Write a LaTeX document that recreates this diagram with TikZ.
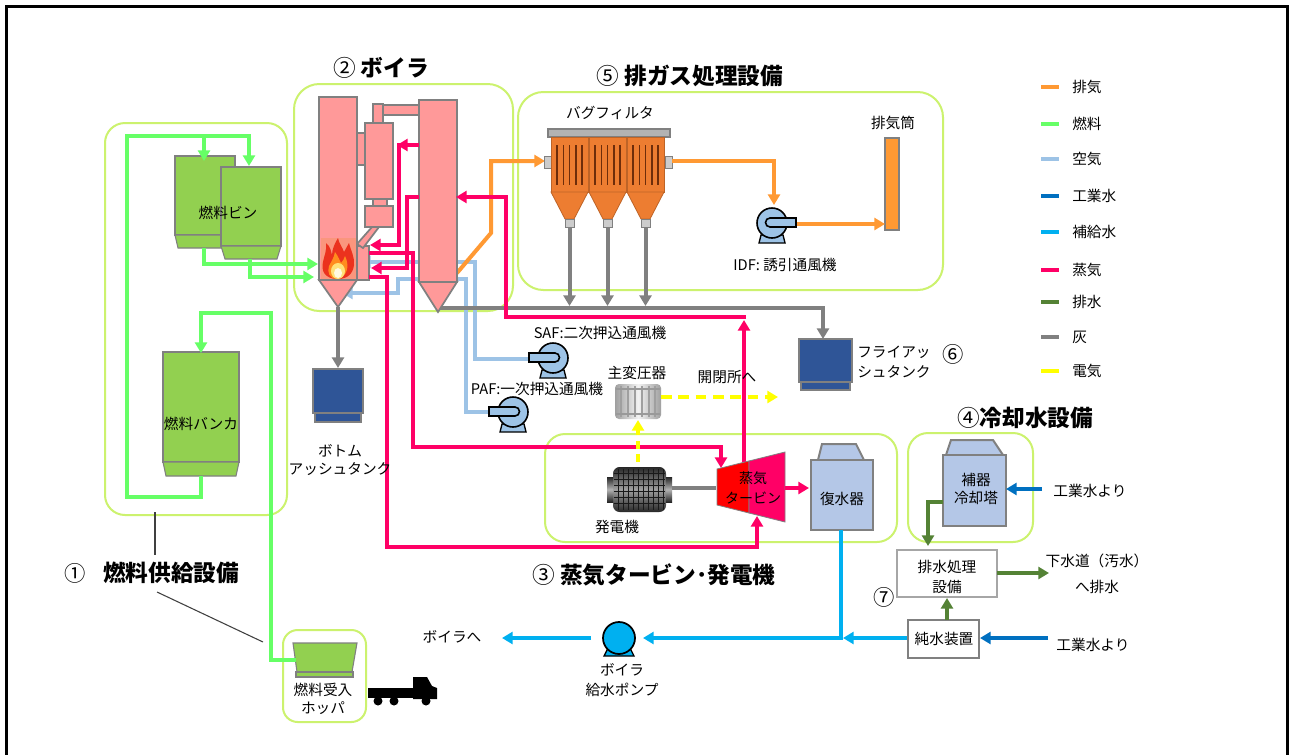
\documentclass[tikz,border=0pt]{standalone}
\usepackage{fontspec}
\setmainfont{Noto Sans CJK JP}
\usetikzlibrary{arrows.meta}
\definecolor{cOrange}{RGB}{255,153,51}
\definecolor{cFuel}{RGB}{102,255,102}
\definecolor{cAir}{RGB}{157,195,230}
\definecolor{cInd}{RGB}{0,112,192}
\definecolor{cMake}{RGB}{0,176,240}
\definecolor{cSteam}{RGB}{255,0,102}
\definecolor{cDrain}{RGB}{84,130,53}
\definecolor{cAsh}{RGB}{128,128,128}
\definecolor{cElec}{RGB}{255,255,0}
\definecolor{cGroup}{RGB}{204,242,110}
\definecolor{cBin}{RGB}{146,208,80}
\definecolor{cBoiler}{RGB}{255,153,153}
\definecolor{cTank}{RGB}{47,85,151}
\definecolor{cCond}{RGB}{180,199,231}
\definecolor{cBag}{RGB}{237,125,49}
\definecolor{cBagDk}{RGB}{110,45,10}
\definecolor{cLead}{RGB}{64,64,64}
\definecolor{fBg}{RGB}{250,150,125}
\definecolor{fRed}{RGB}{235,50,30}
\definecolor{fOra}{RGB}{255,140,30}
\definecolor{fYel}{RGB}{255,225,120}
\definecolor{fWht}{RGB}{255,250,225}
\tikzset{
 tip/.style={-{Triangle[length=8pt,width=9pt]}},
 pipe/.style={line width=3pt},
 fuel/.style={pipe,draw=cFuel},
 exh/.style={pipe,draw=cOrange},
 air/.style={pipe,draw=cAir},
 ind/.style={pipe,draw=cInd},
 make/.style={pipe,draw=cMake},
 steam/.style={pipe,draw=cSteam},
 drain/.style={pipe,draw=cDrain},
 ash/.style={pipe,draw=cAsh},
 elec/.style={pipe,draw=cElec},
 grp/.style={draw=cGroup,line width=1.5pt,rounded corners=15pt},
 boil/.style={fill=cBoiler,draw=cAsh,line width=1.3pt},
 binst/.style={fill=cBin,draw=cAsh,line width=0.8pt},
 tank/.style={fill=cTank,draw=cAsh,line width=0.8pt},
 cond/.style={fill=cCond,draw=cAsh,line width=1.5pt},
 lbl/.style={font=\fontsize{11}{14.5}\selectfont,inner sep=0pt,align=center},
 ttl/.style={font=\fontsize{17}{20}\selectfont\bfseries,inner sep=0pt},
 num/.style={font=\fontsize{16}{19}\selectfont,inner sep=0pt},
 leader/.style={draw=cLead,line width=0.8pt},
 fanleft/.pic={
   \filldraw[fill=cAir,draw=black,line width=1pt] (-11,12) -- (11,12) -- (13,20) -- (-13,20) -- cycle;
   \filldraw[fill=cAir,draw=black,line width=1.2pt] (0,0) circle[radius=15];
   \filldraw[fill=cAir,draw=black,line width=1.2pt] (-24,-5) -- (2,-5) arc[start angle=-90,end angle=90,radius=4.5] -- (-24,4) -- cycle;
 }
}
\begin{document}
\begin{tikzpicture}[x=0.75pt,y=-0.75pt]
\useasboundingbox (0,0) rectangle (1292,754);
\fill[white] (0,0) rectangle (1292,754);
\draw[line width=2.25pt] (6.5,770) -- (6.5,6.5) -- (1287.5,6.5) -- (1287.5,770);

% group boxes
\draw[grp] (105,123) rectangle (287,515);
\draw[grp,rounded corners=19pt] (294,84) rectangle (513,311);
\draw[grp,rounded corners=19pt] (518,92) rectangle (943,290);
\draw[grp] (545,434) rectangle (897,542);
\draw[grp] (908,433) rectangle (1033,542);
\draw[grp,rounded corners=11pt] (283,630) rectangle (366,722);

% titles
\node[ttl] (t2) at (381,68) {{\mdseries ②} ボイラ};
\node[ttl] (t5) at (690,76) {{\mdseries ⑤} 排ガス処理設備};
\node[ttl] (t4) at (1025,418) {{\mdseries ④}冷却水設備};
\node[ttl] (t3) at (654,575) {{\mdseries ③} 蒸気タービン･発電機};
\node[num] (t1n) at (75,573) {①};
\node[ttl,anchor=west] (t1) at (103,573) {燃料供給設備};
\node[num] (n6) at (953,354) {⑥};
\node[num] (n7) at (884,597) {⑦};

% leader lines
\coordinate (la) at (155,512); \coordinate (lb) at (155,555);
\coordinate (lc) at (157,592); \coordinate (ld) at (263,642);
\draw[leader] (la) -- (lb);
\draw[leader] (lc) -- (ld);

% fuel bins
\filldraw[binst] (175,156) rectangle (235,235);
\filldraw[binst] (175,235) -- (235,235) -- (232,248) -- (178,248) -- cycle;
\filldraw[binst] (221,167) rectangle (281,246);
\filldraw[binst] (221,246) -- (281,246) -- (277,259) -- (225,259) -- cycle;
\node[lbl] (bin) at (228,213) {燃料ビン};
% bunker
\filldraw[binst] (163,352) rectangle (239,462);
\filldraw[binst] (163,462) -- (239,462) -- (236,476) -- (166,476) -- cycle;
\node[lbl] (bunker) at (201,424) {燃料バンカ};
% receiving hopper
\filldraw[binst] (293,643) -- (357,643) -- (352,672) -- (297,672) -- cycle;
\filldraw[binst] (296,672) rectangle (353,677);
\node[lbl,font=\fontsize{11}{13}\selectfont] (hopper) at (323,699) {燃料受入\\ホッパ};
% truck
\fill[black] (368,688) rectangle (414,698);
\fill[black] (413,699) -- (413,677) -- (427,677) -- (432,686) -- (437,688) -- (437,699) -- cycle;
\foreach \wx in {378,394,426} \fill[black] (\wx,701) circle[radius=4.5];

% fuel lines
\draw[fuel,tip] (201,476) -- (201,497) -- (127,497) -- (127,136) -- (249,136) -- (249,166);
\draw[fuel,tip] (204,136) -- (204,161);
\draw[fuel,tip] (204,248) -- (204,264) -- (318,264);
\draw[fuel,tip] (250,259) -- (250,277) -- (314,277);
\draw[fuel,tip] (296,660) -- (271,660) -- (271,313) -- (201,313) -- (201,353);

% air lines (behind boiler)
\draw[air,tip] (529,359) -- (475,359) -- (475,262) -- (360,262);
\draw[air,tip] (489,412) -- (466,412) -- (466,279) -- (398,279) -- (398,293) -- (342,293);
% ash main line
\draw[ash,tip] (438,308) -- (823,308) -- (823,339);
% exhaust from boiler
\draw[exh,tip] (457,273) -- (491,233) -- (491,161) -- (545,161);

% boiler
\filldraw[boil] (319,97) rectangle (357,280);
\filldraw[boil] (319,280) -- (357,280) -- (338,307) -- cycle;
\filldraw[boil] (357,246) rectangle (369,280);
\filldraw[boil] (357,133) rectangle (365,165);
\filldraw[boil] (373,104) rectangle (383,124);
\filldraw[boil] (383,105) rectangle (419,115);
\filldraw[boil] (365,123) rectangle (393,199);
\filldraw[boil] (373,199) rectangle (387,206);
\filldraw[boil] (365,206) rectangle (393,227);
\filldraw[boil] (372,227) -- (379,227) -- (363,248) -- (357,244) -- cycle;
\filldraw[boil] (419,100) rectangle (457,282);
\filldraw[boil] (419,282) -- (457,282) -- (438,312) -- cycle;
% fire
\fill[fBg] (321,238) rectangle (356,279);
\fill[fRed] (338,279) .. controls (324,279) and (321,270) .. (323,262) .. controls (324,256) and (327,251) .. (326,243) .. controls (331,247) and (331,252) .. (332,255) .. controls (332,249) and (335,243) .. (338,238) .. controls (339,244) and (343,248) .. (344,252) .. controls (346,249) and (347,246) .. (349,243) .. controls (351,251) and (355,258) .. (354,265) .. controls (353,274) and (347,279) .. (338,279) -- cycle;
\fill[fOra] (338,279) .. controls (329,279) and (327,272) .. (329,266) .. controls (331,262) and (334,258) .. (335,252) .. controls (338,256) and (340,261) .. (341,263) .. controls (343,261) and (344,259) .. (345,256) .. controls (349,264) and (349,275) .. (338,279) -- cycle;
\fill[fYel] (338,271) ellipse[x radius=7,y radius=8];
\fill[fWht] (338,273) ellipse[x radius=4,y radius=5];

% steam lines
\draw[steam,tip] (419,145) -- (397,145);
\draw[steam,tip] (399,143) -- (399,245) -- (370,245);
\draw[steam,tip] (419,197) -- (407,197) -- (407,268) -- (371,268);
\draw[steam,tip] (369,253) -- (413,253) -- (413,447) -- (721,447) -- (721,468);
\draw[steam,tip] (369,277) -- (387,277) -- (387,547) -- (757,547) -- (757,516);
\draw[steam,tip] (744,462) -- (744,320);
\draw[steam,tip] (746,317) -- (506,317) -- (506,197) -- (456,197);

% bottom ash
\draw[ash,tip] (338,307) -- (338,368);
\filldraw[tank] (313,369) rectangle (363,413);
\filldraw[tank] (315,413) rectangle (361,422);
\node[lbl,font=\fontsize{11}{13}\selectfont] (bat) at (340,460) {ボトム\\アッシュタンク};

% bag filter
\filldraw[fill=cAsh!60,draw=cAsh,line width=0.8pt] (548,129) rectangle (670,137);
\filldraw[fill=cAsh!40,draw=cAsh,line width=0.6pt] (544,156) rectangle (551,168);
\filldraw[fill=cAsh!40,draw=cAsh,line width=0.6pt] (665,156) rectangle (672,168);
\foreach \k in {0,1,2}{
  \pgfmathsetmacro\xa{551+38*\k}
  \draw[ash,tip] (\xa+18.5,227) -- (\xa+18.5,306);
  \filldraw[fill=cBag,draw=cBag!80!black,line width=0.6pt] (\xa,137) rectangle (\xa+37,192);
  \filldraw[fill=cBag,draw=cBag!80!black,line width=0.6pt] (\xa,192) -- (\xa+37,192) -- (\xa+23,219) -- (\xa+14,219) -- cycle;
  \filldraw[fill=cAsh!40,draw=cAsh,line width=0.6pt] (\xa+14,219) rectangle (\xa+23,227);
  \foreach \s in {1,...,5} \draw[cBagDk,line width=1.2pt] (\xa+6.2*\s,145) -- (\xa+6.2*\s,185);
}
\node[lbl] (bag) at (610,113) {バグフィルタ};

% exhaust to fan and stack
\draw[exh,tip] (672,161) -- (774,161) -- (774,205);
\pic[xscale=-1] (idf) at (772,223) {fanleft};
\filldraw[fill=cOrange,draw=cAsh,line width=1.3pt] (885,138) rectangle (899,230);
\draw[exh,tip] (797,224) -- (885,224);
\node[lbl] (stack) at (893,123) {排気筒};
\node[lbl] (idfl) at (785,265) {IDF: 誘引通風機};

% SAF / PAF
\pic (saf) at (553,358) {fanleft};
\pic (paf) at (513,412) {fanleft};
\node[lbl] (safl) at (600,333) {SAF:二次押込通風機};
\node[lbl] (pafl) at (537,389) {PAF:一次押込通風機};

% fly ash tank
\filldraw[tank] (799,339) rectangle (852,382);
\filldraw[tank] (801,382) rectangle (850,390);
\node[lbl,anchor=west,align=left] (fat) at (857,362) {フライアッ\\シュタンク};

% transformer
\shade[left color=gray!75,right color=gray!75,middle color=gray!10,rounded corners=3pt] (615,384) rectangle (661,419);
\foreach \rx in {621,628,635,642,649,655} \draw[gray!75,line width=0.8pt] (\rx,386) -- (\rx,417);
\draw[gray!80,line width=1.2pt] (616,389) -- (660,389);
\draw[gray!80,line width=1.2pt] (616,414) -- (660,414);
\node[lbl] (trl) at (637,373) {主変圧器};
\draw[elec,tip,dash pattern=on 8pt off 5pt] (661,397) -- (778,397);
\node[lbl] (swl) at (727,377) {開閉所へ};
\draw[elec,tip,dash pattern=on 6pt off 4pt] (638,462) -- (638,420);

% generator
\shade[top color=gray!30!black,bottom color=gray!30!black,middle color=gray!75,rounded corners=5pt] (613,467) rectangle (666,512);
\shade[top color=gray!30!black,bottom color=gray!30!black,middle color=gray!60] (607,477) rectangle (613,502);
\shade[top color=gray!30!black,bottom color=gray!30!black,middle color=gray!60] (666,477) rectangle (672,502);
\foreach \gx in {618,623,...,663} \draw[gray!20!black,line width=0.6pt] (\gx,469) -- (\gx,510);
\foreach \gy in {473,479,...,507} \draw[gray!20!black,line width=0.6pt] (614,\gy) -- (665,\gy);
\node[lbl] (genl) at (617,527) {発電機};
\draw[ash] (672,488) -- (716,488);

% turbine
\filldraw[fill=red,draw=cAsh,line width=0.6pt] (717,469) -- (749,461) -- (749,513) -- (717,505) -- cycle;
\filldraw[fill=cSteam,draw=cAsh,line width=0.6pt] (749,461) -- (785,452) -- (785,522) -- (749,513) -- cycle;
\node[lbl,font=\fontsize{10.5}{14.5}\selectfont] (turl) at (753,488) {蒸気\\タービン};
\draw[steam,tip] (785,488) -- (809,488);

% condenser
\filldraw[cond] (822,444) -- (856,444) -- (864,460) -- (818,460) -- cycle;
\filldraw[cond] (811,460) rectangle (873,530);
\node[lbl] (condl) at (842,499) {復水器};

% feed water
\draw[make,tip] (841,530) -- (841,638) -- (643,638);
\draw[make,tip] (908,638) -- (843,638);
\draw[make,tip] (591,638) -- (502,638);
\filldraw[fill=cMake,draw=black,line width=1pt] (608,648) -- (630,648) -- (634,656) -- (604,656) -- cycle;
\filldraw[fill=cMake,draw=black,line width=1.3pt] (619,638) circle[radius=16];
\node[lbl] (pumpl) at (622,680) {ボイラ\\給水ポンプ};
\node[lbl] (toboil) at (452,637) {ボイラへ};

% cooling tower
\filldraw[cond] (951,440) -- (993,440) -- (1003,455) -- (946,455) -- cycle;
\filldraw[cond] (943,455) rectangle (1006,526);
\node[lbl,font=\fontsize{11}{13}\selectfont] (ctl) at (976,489) {補器\\冷却塔};
\draw[ind,tip] (1042,489) -- (1006,489);
\node[lbl] (iw1) at (1090,491) {工業水より};
\draw[drain,tip] (943,502) -- (928,502) -- (928,546);

% waste water treatment
\filldraw[fill=white,draw=gray!70,line width=1pt] (897,550) rectangle (997,597);
\node[lbl] (wwl) at (947,577) {排水処理\\設備};
\draw[drain,tip] (997,573) -- (1049,573);
\node[lbl,font=\fontsize{11}{19.5}\selectfont] (sewl) at (1097,574) {下水道（汚水）\\へ排水};

% pure water
\filldraw[fill=white,draw=cAsh,line width=1.5pt] (908,620) rectangle (979,658);
\node[lbl] (pwl) at (944,639) {純水装置};
\draw[drain,tip] (947,620) -- (947,598);
\draw[ind,tip] (1048,638) -- (980,638);
\node[lbl] (iw2) at (1093,645) {工業水より};

% legend
\foreach \ly/\lc/\lt in {87/cOrange/排気,124/cFuel/燃料,159/cAir/空気,196/cInd/工業水,232/cMake/補給水,270/cSteam/蒸気,302/cDrain/排水,337/cAsh/灰,371/cElec/電気}{
  \draw[draw=\lc,line width=3pt] (1041,\ly) -- (1059,\ly);
  \node[lbl,anchor=west] at (1072,\ly) {\lt};
}
\end{tikzpicture}
\end{document}
